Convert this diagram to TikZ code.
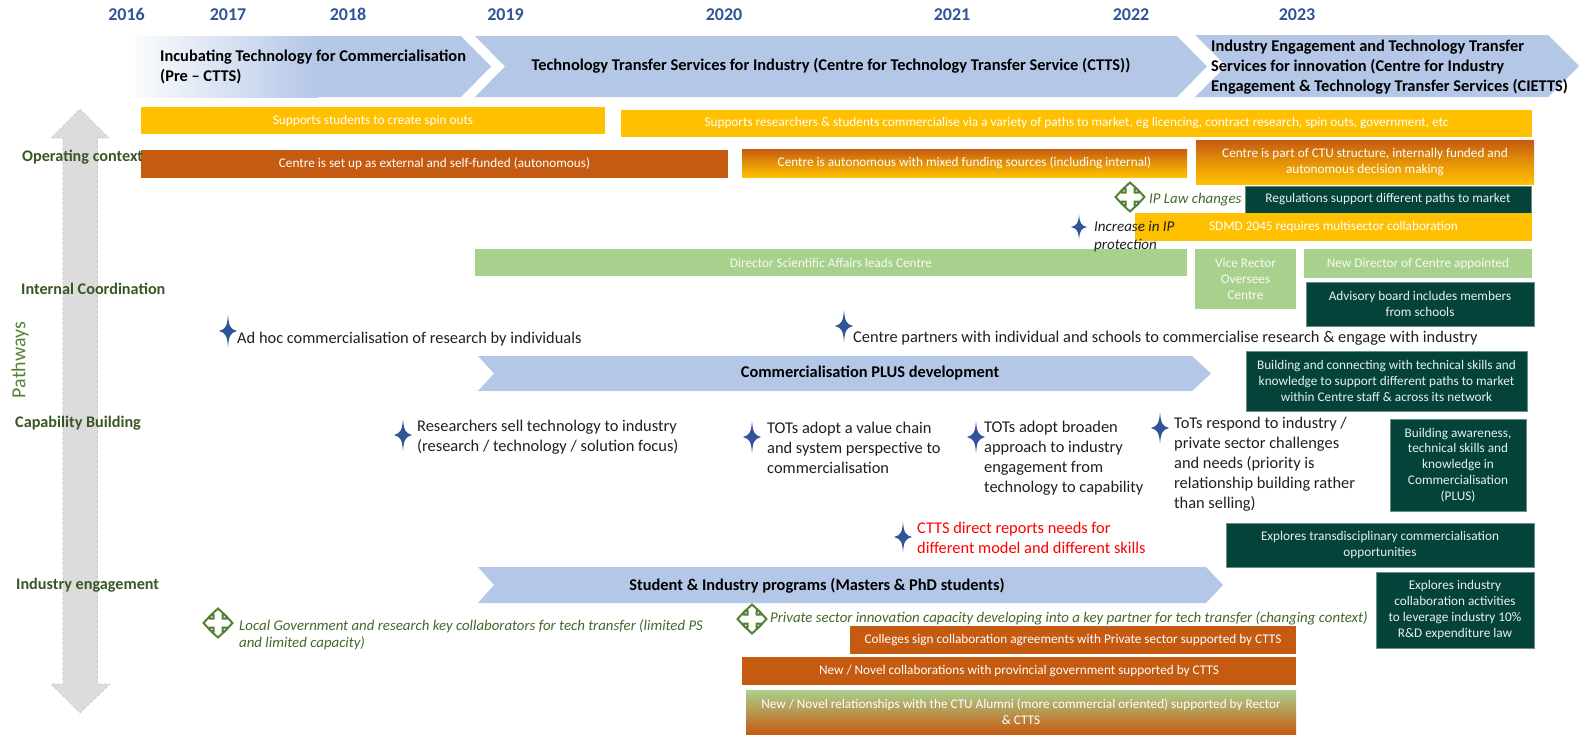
\documentclass[tikz,border=0pt]{standalone}
\usepackage{fontspec}
\setmainfont{Carlito}
\definecolor{chev}{HTML}{B4C7E7}
\definecolor{yel}{HTML}{FFC000}
\definecolor{org}{HTML}{C55A11}
\definecolor{lgrn}{HTML}{A9D18E}
\definecolor{dgrn}{HTML}{03433A}
\definecolor{yearblue}{HTML}{2F5597}
\definecolor{lblgrn}{HTML}{385723}
\definecolor{icongrn}{HTML}{548235}
\definecolor{ink}{HTML}{1F1F1F}
\definecolor{arrowgrey}{HTML}{DCDCDC}
\newcommand{\barbox}[7]{\node[#2,minimum width={#5pt-#3pt},minimum height={#6pt-#4pt}] (#1) at ({(#3+#5)/2},{(#4+#6)/2}) {#7};}
\newcommand{\fourstar}[4]{%
  \fill[yearblue,shift={(#1,#2)}] (0,-#4) .. controls ({0.1*#3},{-0.3*#4}) and ({0.25*#3},{-0.12*#4}) .. (#3,0)
    .. controls ({0.25*#3},{0.12*#4}) and ({0.1*#3},{0.3*#4}) .. (0,#4)
    .. controls ({-0.1*#3},{0.3*#4}) and ({-0.25*#3},{0.12*#4}) .. (-#3,0)
    .. controls ({-0.25*#3},{-0.12*#4}) and ({-0.1*#3},{-0.3*#4}) .. (0,-#4) -- cycle;}
\newcommand{\quadicon}[2]{%
  \draw[icongrn,line width=2pt,fill=white,line join=miter,shift={(#1,#2)}]
    (0,-14.5) -- (7,-8) -- (4.5,-8) -- (4.5,-4.5) -- (8,-4.5) -- (8,-7) -- (14.5,0)
    -- (8,7) -- (8,4.5) -- (4.5,4.5) -- (4.5,8) -- (7,8) -- (0,14.5)
    -- (-7,8) -- (-4.5,8) -- (-4.5,4.5) -- (-8,4.5) -- (-8,7) -- (-14.5,0)
    -- (-8,-7) -- (-8,-4.5) -- (-4.5,-4.5) -- (-4.5,-8) -- (-7,-8) -- cycle;}
\tikzset{
  year/.style={font=\fontsize{18}{20}\selectfont\bfseries,text=yearblue,inner sep=0pt,anchor=base},
  chevtxt/.style={font=\fontsize{16.4}{20}\selectfont\bfseries,text=black,inner sep=0pt,align=left},
  barbase/.style={inner sep=0pt,outer sep=0pt,align=center,text=white,font=\fontsize{13.25}{15.8}\selectfont},
  yelbar/.style={barbase,fill=yel},
  orgbar/.style={barbase,fill=org},
  grad/.style={barbase,top color=org,bottom color=yel,middle color=yel!55!org},
  lgbar/.style={barbase,fill=lgrn,text=white!90!lgrn},
  dgbar/.style={barbase,fill=dgrn,draw=dgrn!60!white,line width=.6pt,text=white!92!dgrn},
  alumni/.style={barbase,top color=lgrn,bottom color=org},
  side/.style={font=\fontsize{16.2}{18}\selectfont\bfseries,text=lblgrn,inner sep=0pt,anchor=west},
  note/.style={font=\fontsize{16.4}{20}\selectfont,text=ink,inner sep=0pt,anchor=west,align=left},
  rednote/.style={note,text=red},
  itnote/.style={font=\fontsize{14.85}{17}\selectfont\itshape,text=icongrn!80!black,inner sep=0pt,anchor=west,align=left},
  itblack/.style={font=\fontsize{15}{18}\selectfont\itshape,text=ink,inner sep=0pt,anchor=west,align=left},
}
\begin{document}
\begin{tikzpicture}[x=1pt,y=-1pt]
\useasboundingbox (0,0) rectangle (1579,734);
% grey double arrow
\draw[fill=arrowgrey,draw=gray!45,densely dashed,line width=.6pt]
  (80,109) -- (109,138) -- (97.5,138) -- (97.5,684) -- (110,684) -- (80,713) -- (51,684) -- (63,684) -- (63,138) -- (51,138) -- cycle;
% years
\node[year] (y16) at (126.5,20.5) {2016};
\node[year] (y17) at (228,20.5) {2017};
\node[year] (y18) at (348,20.5) {2018};
\node[year] (y19) at (505.5,20.5) {2019};
\node[year] (y20) at (724,20.5) {2020};
\node[year] (y21) at (952,20.5) {2021};
\node[year] (y22) at (1131,20.5) {2022};
\node[year] (y23) at (1297,20.5) {2023};
% phase chevrons
\fill[chev] (135,36) -- (461,36) -- (491,66.5) -- (461,97) -- (135,97) -- cycle;
\shade[left color=chev!6!white,right color=chev] (135,36) rectangle (318,97);
\fill[chev] (475,36) -- (1177,36) -- (1207,66.5) -- (1177,97) -- (475,97) -- (505,66.5) -- cycle;
\fill[chev] (1195,35) -- (1548,35) -- (1579,66) -- (1548,97) -- (1195,97) -- (1226,66) -- cycle;
\node[chevtxt,anchor=west] (p1) at (160,67) {Incubating Technology for Commercialisation\\(Pre -- CTTS)};
\node[chevtxt] (p2) at (831,66) {Technology Transfer Services for Industry (Centre for Technology Transfer Service (CTTS))};
\node[chevtxt,anchor=west] (p3) at (1211,67) {Industry Engagement and Technology Transfer\\Services for innovation (Centre for Industry\\Engagement \& Technology Transfer Services (CIETTS)};
% operating context bars
\barbox{b1}{yelbar}{141}{107}{605}{134}{Supports students to create spin outs}
\barbox{b2}{yelbar}{621}{110}{1532}{137}{Supports researchers \& students commercialise via a variety of paths to market, eg licencing, contract research, spin outs, government, etc}
\barbox{b3}{orgbar}{141}{150}{728}{178}{Centre is set up as external and self-funded (autonomous)}
\barbox{b4}{grad}{742}{149}{1187}{177}{Centre is autonomous with mixed funding sources (including internal)}
\barbox{b5}{grad}{1196}{140}{1534}{184}{Centre is part of CTU structure, internally funded and\\autonomous decision making}
\quadicon{1130}{197}
\node[itnote] (ip) at (1149,200) {IP Law changes};
\barbox{b6}{dgbar}{1245}{186}{1531}{213}{Regulations support different paths to market}
\barbox{b7}{yelbar}{1135}{213}{1532}{241}{SDMD 2045 requires multisector collaboration}
% internal coordination
\barbox{b8}{lgbar}{475}{249}{1187}{276}{Director Scientific Affairs leads Centre}
\barbox{b9}{lgbar}{1195}{249}{1296}{309}{Vice Rector\\Oversees\\Centre}
\barbox{b10}{lgbar}{1304}{249}{1532}{278}{New Director of Centre appointed}
\barbox{b11}{dgbar}{1306}{282}{1534}{326}{Advisory board includes members\\from schools}
\fourstar{1079}{227}{8}{12.5}
\node[itblack] (inc) at (1094,237) {Increase in IP\\protection};
\fourstar{228}{331}{9}{16}
\node[note] (adhoc) at (237,339) {Ad hoc commercialisation of research by individuals};
\fourstar{844}{326}{9}{16}
\node[note] (partners) at (853,338.5) {Centre partners with individual and schools to commercialise research \& engage with industry};
% capability building
\fill[chev] (478,356) -- (1192,356) -- (1211,373.5) -- (1192,391) -- (478,391) -- (494,373.5) -- cycle;
\node[chevtxt] (plus) at (870,373) {Commercialisation PLUS development};
\barbox{b12}{dgbar}{1246}{351}{1527}{411}{Building and connecting with technical skills and\\knowledge to support different paths to market\\within Centre staff \& across its network}
\barbox{b13}{dgbar}{1390}{419}{1526}{511}{Building awareness,\\technical skills and\\knowledge in\\Commercialisation\\(PLUS)}
\fourstar{403}{435}{9}{16}
\node[note] (res) at (417,437) {Researchers sell technology to industry\\(research / technology / solution focus)};
\fourstar{752}{437}{9}{16}
\node[note] (tot1) at (767,448) {TOTs adopt a value chain\\and system perspective to\\commercialisation};
\fourstar{976}{437}{9}{16}
\node[note] (tot2) at (984,458) {TOTs adopt broaden\\approach to industry\\engagement from\\technology to capability};
\fourstar{1160}{428}{9}{16}
\node[note] (tot3) at (1174,464.5) {ToTs respond to industry /\\private sector challenges\\and needs (priority is\\relationship building rather\\than selling)};
\fourstar{903}{537}{9}{15}
\node[rednote] (ctts) at (917,538) {CTTS direct reports needs for\\different model and different skills};
\barbox{b14}{dgbar}{1226}{523}{1534}{567}{Explores transdisciplinary commercialisation\\opportunities}
% industry engagement
\fill[chev] (478,567) -- (1206,567) -- (1223,585) -- (1206,603) -- (478,603) -- (494,585) -- cycle;
\node[chevtxt] (stud) at (817,586) {Student \& Industry programs (Masters \& PhD students)};
\barbox{b15}{dgbar}{1376}{572}{1534}{648}{Explores industry\\collaboration activities\\to leverage industry 10\%\\R\&D expenditure law}
\quadicon{218}{623}
\node[itnote] (lg) at (239,634.5) {Local Government and research key collaborators for tech transfer (limited PS\\and limited capacity)};
\quadicon{752}{619}
\node[itnote] (ps) at (770,618) {Private sector innovation capacity developing into a key partner for tech transfer (changing context)};
\barbox{b16}{orgbar}{850}{626}{1296}{654}{Colleges sign collaboration agreements with Private sector supported by CTTS}
\barbox{b17}{orgbar}{742}{657}{1296}{685}{New / Novel collaborations with provincial government supported by CTTS}
\barbox{b18}{alumni}{746}{690}{1296}{734}{New / Novel relationships with the CTU Alumni (more commercial oriented) supported by Rector\\\& CTTS}
% side labels
\node[side] (s1) at (22,157) {Operating context};
\node[side] (s2) at (21,289) {Internal Coordination};
\node[side] (s3) at (15,423) {Capability Building};
\node[side] (s4) at (16,585) {Industry engagement};
\node[font=\fontsize{20}{22}\selectfont,text=icongrn,rotate=90,inner sep=0pt] (path) at (20,360) {Pathways};
\end{tikzpicture}
\end{document}
